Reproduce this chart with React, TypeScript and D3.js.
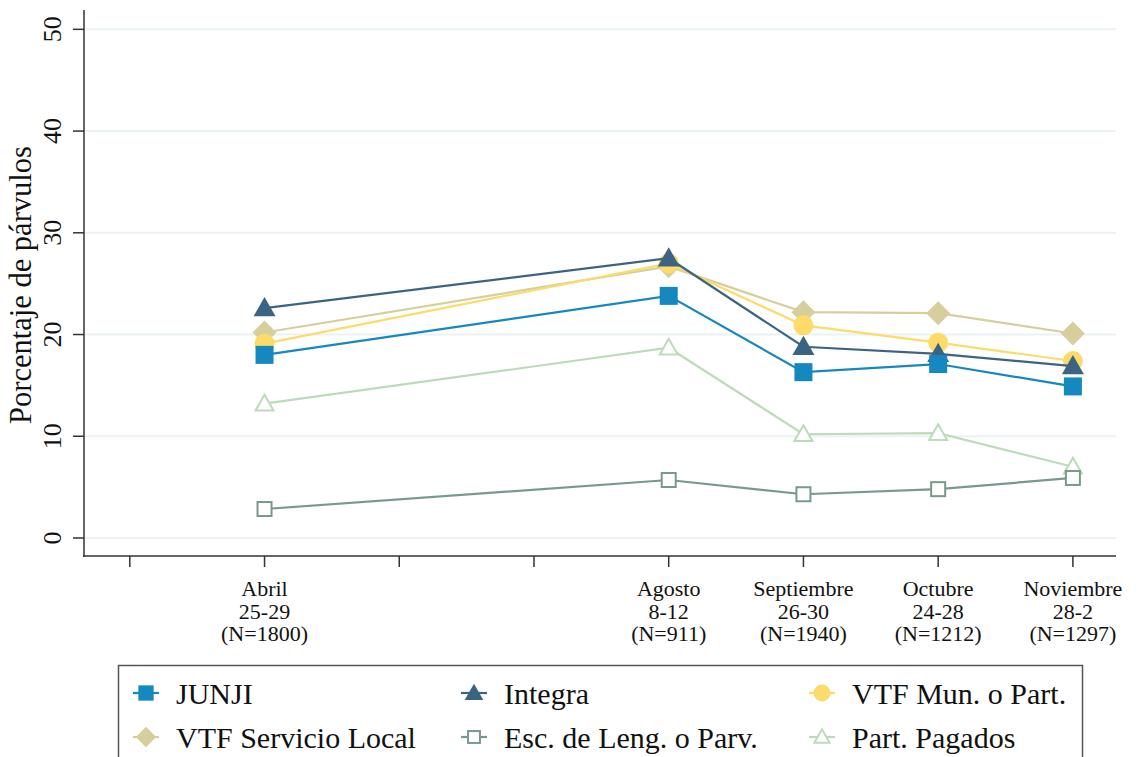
import React from "react";
import * as d3 from "d3";

const tickPositions = [0, 1, 2, 3, 4, 5, 6, 7];
const categoryPos = [1, 4, 5, 6, 7];
const categoryLabels = [
  ["Abril", "25-29", "(N=1800)"],
  ["Agosto", "8-12", "(N=911)"],
  ["Septiembre", "26-30", "(N=1940)"],
  ["Octubre", "24-28", "(N=1212)"],
  ["Noviembre", "28-2", "(N=1297)"],
];
const yTicks = [0, 10, 20, 30, 40, 50];

const junji = [18.0, 23.8, 16.3, 17.1, 14.9];
const integra = [22.6, 27.5, 18.8, 18.1, 16.9];
const vtfMun = [19.1, 27.0, 20.9, 19.2, 17.4];
const vtfServ = [20.2, 26.7, 22.2, 22.1, 20.1];
const escLeng = [2.85, 5.7, 4.3, 4.8, 5.9];
const partPag = [13.2, 18.7, 10.2, 10.3, 7.0];

type Series = { name: string; values: number[]; color: string; shape: string };
const series: Series[] = [
  { name: "Part. Pagados", values: partPag, color: "#bddbbb", shape: "triOpen" },
  { name: "Esc. de Leng. o Parv.", values: escLeng, color: "#789a8a", shape: "sqOpen" },
  { name: "VTF Servicio Local", values: vtfServ, color: "#d6cf9d", shape: "diamond" },
  { name: "VTF Mun. o Part.", values: vtfMun, color: "#fddb6a", shape: "circle" },
  { name: "Integra", values: integra, color: "#3b6482", shape: "tri" },
  { name: "JUNJI", values: junji, color: "#1488bf", shape: "sq" },
];

const legendOrder = [
  ["JUNJI", "Integra", "VTF Mun. o Part."],
  ["VTF Servicio Local", "Esc. de Leng. o Parv.", "Part. Pagados"],
];

function Marker({ shape, x, y, color, scale = 1 }: { shape: string; x: number; y: number; color: string; scale?: number }) {
  const s = scale;
  if (shape === "sq") return <rect x={x - 9 * s} y={y - 9 * s} width={18 * s} height={18 * s} fill={color} />;
  if (shape === "sqOpen")
    return <rect x={x - 7 * s} y={y - 7 * s} width={14 * s} height={14 * s} fill="white" stroke={color} strokeWidth={2} />;
  if (shape === "circle") return <circle cx={x} cy={y} r={10 * s} fill={color} />;
  if (shape === "diamond") {
    const r = 12 * s;
    return <path d={`M${x},${y - r}L${x + r},${y}L${x},${y + r}L${x - r},${y}Z`} fill={color} />;
  }
  if (shape === "tri") {
    const r = 11 * s;
    return <path d={`M${x},${y - r}L${x + r},${y + r * 0.75}L${x - r},${y + r * 0.75}Z`} fill={color} />;
  }
  const r = 9 * s;
  return (
    <path d={`M${x},${y - r}L${x + r},${y + r * 0.75}L${x - r},${y + r * 0.75}Z`} fill="white" stroke={color} strokeWidth={2} />
  );
}

export default function App() {
  const W = 1142, H = 757;
  const x = d3.scaleLinear().domain([-0.34, 7.32]).range([84, 1116]);
  const y = d3.scaleLinear().domain([-1.77, 51.9]).range([556, 10]);
  const font = "Liberation Serif";
  const line = d3
    .line<number>()
    .x((_, i) => x(categoryPos[i]))
    .y((v) => y(v));
  const legendCols = [146, 474, 822];
  const legendRows = [693, 737];
  const find = (n: string) => series.find((s) => s.name === n)!;

  return (
    <svg width={W} height={H} style={{ position: "absolute", left: 0, top: 0, background: "white", fontFamily: font }}>
      <rect width={W} height={H} fill="white" />
      {yTicks.map((t) => (
        <line key={"g" + t} x1={84} x2={1116} y1={y(t)} y2={y(t)} stroke="#eaf2f3" strokeWidth={2} />
      ))}
      <line x1={84} x2={84} y1={10} y2={557} stroke="#333" strokeWidth={1.5} />
      <line x1={83} x2={1116} y1={556} y2={556} stroke="#333" strokeWidth={1.5} />
      {yTicks.map((t) => (
        <g key={"y" + t}>
          <line x1={73} x2={84} y1={y(t)} y2={y(t)} stroke="#333" strokeWidth={1.5} />
          <text
            transform={`translate(61,${y(t)}) rotate(-90)`}
            textAnchor="middle"
            fontSize={26}
            fill="#111"
            style={{ fontFamily: font }}
          >
            {t}
          </text>
        </g>
      ))}
      <text transform="translate(31,285) rotate(-90)" textAnchor="middle" fontSize={30.5} fill="#111" style={{ fontFamily: font }}>
        Porcentaje de párvulos
      </text>
      {tickPositions.map((p) => (
        <line key={"xt" + p} x1={x(p)} x2={x(p)} y1={556} y2={567} stroke="#333" strokeWidth={1.5} />
      ))}
      {categoryPos.map((p, i) => (
        <text key={"xl" + i} x={x(p)} textAnchor="middle" fontSize={22} fill="#111" style={{ fontFamily: font }}>
          {categoryLabels[i].map((l, j) => (
            <tspan key={j} x={x(p)} y={596 + j * 22.5}>
              {l}
            </tspan>
          ))}
        </text>
      ))}
      {series.map((s) => (
        <g key={s.name}>
          <path d={line(s.values) || ""} fill="none" stroke={s.color} strokeWidth={2.2} />
          {s.values.map((v, i) => (
            <Marker key={i} shape={s.shape} x={x(categoryPos[i])} y={y(v)} color={s.color} />
          ))}
        </g>
      ))}
      <rect x={118.5} y={665.5} width={964} height={100} fill="white" stroke="#555" strokeWidth={1.5} />
      {legendOrder.map((row, ri) =>
        row.map((n, ci) => {
          const s = find(n);
          const cx = legendCols[ci];
          const cy = legendRows[ri];
          return (
            <g key={n}>
              <line x1={cx - 13} x2={cx + 13} y1={cy} y2={cy} stroke={s.color} strokeWidth={2.2} />
              <Marker shape={s.shape} x={cx} y={cy} color={s.color} scale={0.85} />
              <text x={cx + 30} y={cy + 11} fontSize={30} fill="#111" style={{ fontFamily: font }}>
                {n}
              </text>
            </g>
          );
        })
      )}
    </svg>
  );
}
